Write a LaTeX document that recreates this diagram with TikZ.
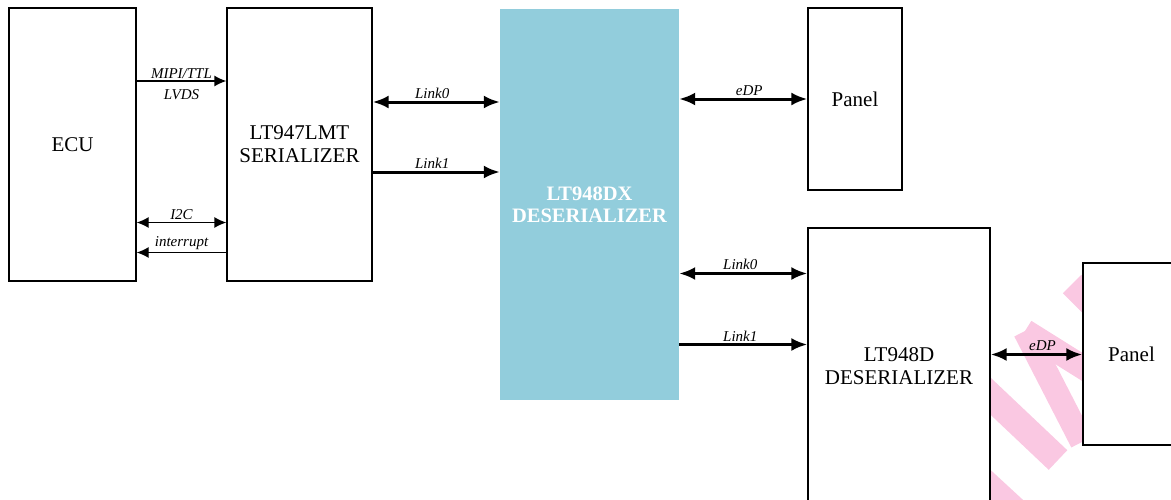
\documentclass[tikz,border=0pt]{standalone}
\usepackage{fontspec}
\setmainfont{Liberation Serif}
\usetikzlibrary{arrows.meta,calc}
\definecolor{cyanfill}{RGB}{146,205,220}
\definecolor{wmpink}{RGB}{250,200,226}
\begin{document}
\begin{tikzpicture}[x=1pt,y=-1pt,
  box/.style={draw=black,line width=1.3pt,fill=white,inner sep=0pt,align=center,
    font=\fontsize{21}{23}\selectfont},
  chip/.style={fill=cyanfill,draw=none,inner sep=0pt,align=center,text=white,
    font=\bfseries\fontsize{20.5}{22}\selectfont},
  thinline/.style={line width=1.3pt},
  thickline/.style={line width=3pt},
  thinone/.style={thinline,-{Latex[length=12pt,width=11pt]}},
  thinboth/.style={thinline,{Latex[length=12pt,width=11pt]}-{Latex[length=12pt,width=11pt]}},
  thickone/.style={thickline,-{Latex[length=16pt,width=13pt]}},
  thickboth/.style={thickline,{Latex[length=16pt,width=13pt]}-{Latex[length=16pt,width=13pt]}},
  lab/.style={font=\itshape\fontsize{15}{16}\selectfont,inner sep=2pt},
  wm/.style={draw=wmpink,line cap=butt}
]
\useasboundingbox (0,0) rectangle (1171,499);
\clip (0,0) rectangle (1171,499);
% watermark fragments
\draw[wm,line width=26pt] (1072,284) -- (1110,322);
\draw[wm,line width=24pt] (1025,331) -- (1100,378);
\draw[wm,line width=24pt] (1025,331) -- (1082,442);
\draw[wm,line width=27pt] (965,372) -- (1058,460);
\draw[wm,line width=30pt] (975,476) -- (1040,536);
% boxes
\node[box,minimum width=127pt,minimum height=273pt] (ecu) at (72.5,144.5) {ECU};
\node[box,minimum width=145pt,minimum height=273pt] (ser) at (299.5,144.5) {LT947LMT\\SERIALIZER};
\node[chip,minimum width=179pt,minimum height=391pt] (dx) at (589.5,204.5) {LT948DX\\DESERIALIZER};
\node[box,minimum width=94pt,minimum height=182pt] (p1) at (855,99) {Panel};
\node[box,minimum width=182pt,minimum height=276pt] (des) at (899,366) {LT948D\\DESERIALIZER};
\node[box,minimum width=97pt,minimum height=182pt] (p2) at (1131.5,354) {Panel};
% connectors ECU - serializer
\draw[thinone] ([yshift=63.5pt]ecu.east) -- ([yshift=63.5pt]ecu.east -| ser.west)
  node[midway,above,lab]{MIPI/TTL} node[midway,below,lab,yshift=-6pt]{LVDS};
\draw[thinboth] ([yshift=-78pt]ecu.east) -- ([yshift=-78pt]ecu.east -| ser.west)
  node[midway,above,lab]{I2C};
\draw[thinone] ([yshift=-108pt]ser.west) -- ([yshift=-108pt]ser.west -| ecu.east)
  node[midway,above,lab]{interrupt};
% serializer - deserializer
\draw[thickboth] ([yshift=42.5pt]ser.east) -- ([yshift=42.5pt]ser.east -| dx.west)
  node[midway,above,lab,xshift=-4pt]{Link0};
\draw[thickone] ([yshift=-27.5pt]ser.east) -- ([yshift=-27.5pt]ser.east -| dx.west)
  node[midway,above,lab,xshift=-4pt]{Link1};
% deserializer - panel / LT948D
\draw[thickboth] ([yshift=105.5pt]dx.east) -- ([yshift=105.5pt]dx.east -| p1.west)
  node[midway,above,lab,xshift=6pt]{eDP};
\draw[thickboth] ([yshift=-69pt]dx.east) -- ([yshift=-69pt]dx.east -| des.west)
  node[midway,above,lab,xshift=-3pt]{Link0};
\draw[thickone] ([yshift=-140pt]dx.east) -- ([yshift=-140pt]dx.east -| des.west)
  node[midway,above,lab,xshift=-3pt]{Link1};
% LT948D - panel
\draw[thickboth] ([yshift=-0.5pt]p2.west -| des.east) -- ([yshift=-0.5pt]p2.west)
  node[midway,above,lab,xshift=6pt]{eDP};
\end{tikzpicture}
\end{document}
